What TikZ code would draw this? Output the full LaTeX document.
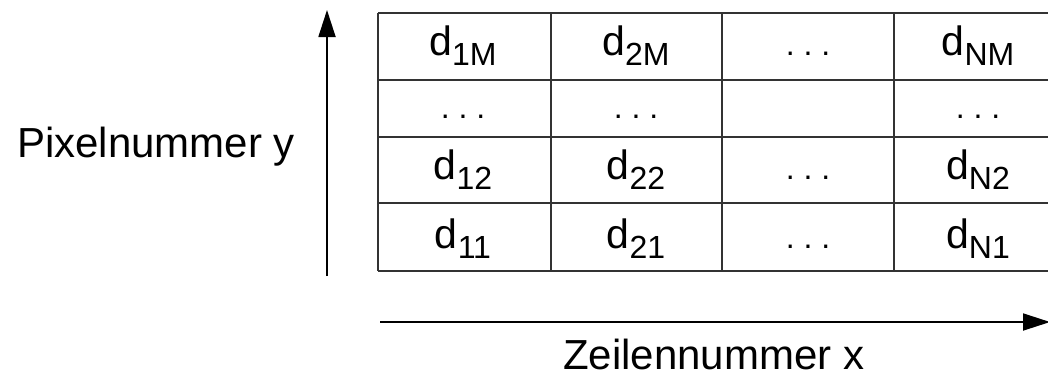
\documentclass[tikz,border=0pt]{standalone}
\usepackage{fontspec}
\setmainfont{Liberation Sans}
\usetikzlibrary{arrows.meta}
\newcommand{\dsub}[1]{{\fontsize{41}{41}\selectfont d}\raisebox{-10pt}{\fontsize{32}{32}\selectfont #1}}
\newcommand{\mydots}{{\fontsize{32}{32}\selectfont .\ .\ .}}
\begin{document}
\begin{tikzpicture}[x=1pt,y=-1pt,
  gridline/.style={line width=1.6pt,draw=black!80},
  axis/.style={line width=1.8pt,draw=black,-{Triangle[length=27pt,width=17pt]}},
  cell/.style={anchor=base,inner sep=0pt,font=\fontsize{40}{40}\selectfont},
  lbl/.style={anchor=base west,inner sep=0pt,font=\fontsize{42}{42}\selectfont}]
\useasboundingbox (0,0) rectangle (1048,376);
\clip (0,0) rectangle (1048,376);
\fill[white] (0,0) rectangle (1048,376);
% grid
\foreach \yy in {13,80,137,203,271} \draw[gridline] (378,\yy) -- (1070,\yy);
\foreach \xx in {378,551,722,894} \draw[gridline] (\xx,13) -- (\xx,271);
% row 1
\node[cell] (c1M) at (463,55) {\dsub{1M}};
\node[cell] (c2M) at (636,55) {\dsub{2M}};
\node[cell] (c3M) at (808,55) {\mydots};
\node[cell] (cNM) at (978,55) {\dsub{NM}};
% row 2
\node[cell] (c1d) at (463,118) {\mydots};
\node[cell] (c2d) at (636,118) {\mydots};
\node[cell] (cNd) at (978,118) {\mydots};
% row 3
\node[cell] (c12) at (463,179) {\dsub{12}};
\node[cell] (c22) at (636,179) {\dsub{22}};
\node[cell] (c32) at (808,179) {\mydots};
\node[cell] (cN2) at (978,179) {\dsub{N2}};
% row 4
\node[cell] (c11) at (463,248) {\dsub{11}};
\node[cell] (c21) at (636,248) {\dsub{21}};
\node[cell] (c31) at (808,248) {\mydots};
\node[cell] (cN1) at (978,248) {\dsub{N1}};
% labels
\node[lbl] (ylab) at (17,157) {Pixelnummer y};
\node[lbl,text depth=0pt] (xlab) at (563,369) {Zeilennummer x};
% axes
\coordinate (ys) at (327,276);
\coordinate (ye) at (327,10);
\coordinate (xs) at (380,322);
\coordinate (xe) at (1050,322);
\draw[axis] (ys) -- (ye);
\draw[axis] (xs) -- (xe);
\end{tikzpicture}
\end{document}
